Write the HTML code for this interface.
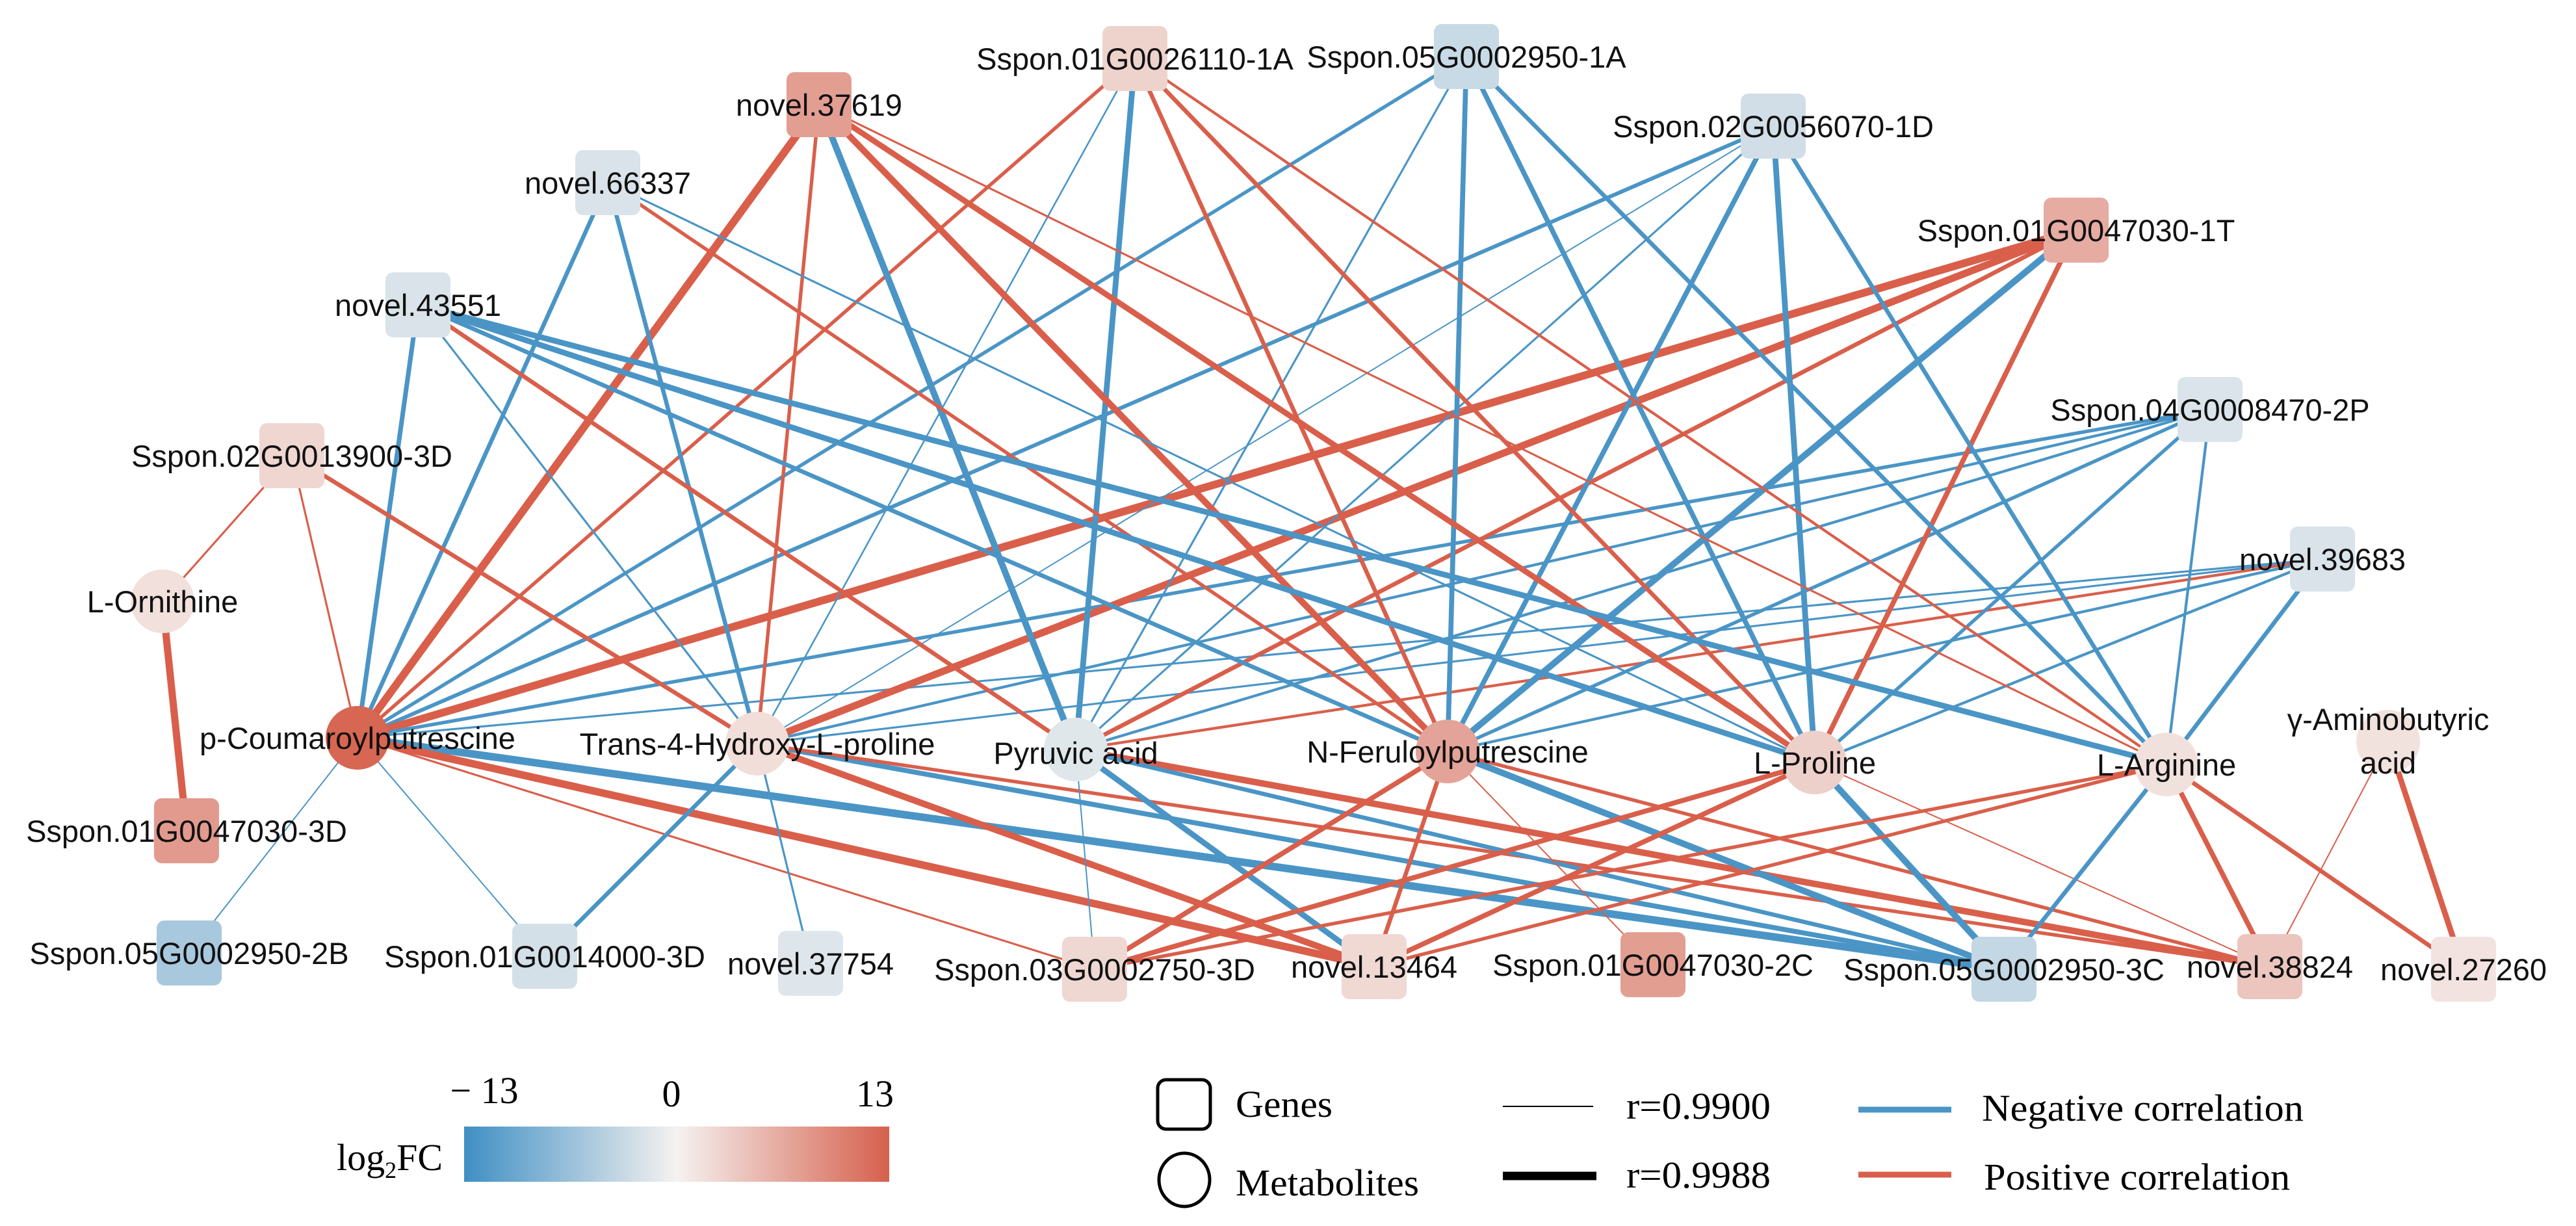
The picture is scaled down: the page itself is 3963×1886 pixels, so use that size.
<!DOCTYPE html>
<html><head><meta charset="utf-8"><style>
html,body{margin:0;padding:0;background:#fff;}
svg{display:block;}
.lbl{font-family:"Liberation Sans",Arial,sans-serif;font-size:47px;fill:#111;text-anchor:middle;}
.leg{font-family:"Liberation Serif","Times New Roman",serif;font-size:58px;fill:#000;}
</style></head><body>
<svg id="chart" width="3963" height="1886" viewBox="0 0 3963 1886" xmlns="http://www.w3.org/2000/svg">
<defs>
<linearGradient id="fcgrad" x1="0" x2="1" y1="0" y2="0">
<stop offset="0" stop-color="#3f8fc4"/><stop offset="0.5" stop-color="#f5f2f0"/><stop offset="1" stop-color="#d6604d"/>
</linearGradient>
</defs>
<g id="edges"></g>
<g id="nodes"></g>
<g id="labels"></g>
<g>
<text class="leg" x="745" y="1697" text-anchor="middle" font-size="56">− 13</text>
<text class="leg" x="1033" y="1702" text-anchor="middle" font-size="56">0</text>
<text class="leg" x="1346" y="1702" text-anchor="middle" font-size="56">13</text>
<rect x="714" y="1733" width="654" height="85" fill="url(#fcgrad)"/>
<text class="leg" x="518" y="1800" font-size="56">log<tspan font-size="36" dy="12">2</tspan><tspan dy="-12">FC</tspan></text>
<rect x="1781" y="1661" width="81" height="76" rx="13" fill="none" stroke="#000" stroke-width="5"/>
<text class="leg" x="1901" y="1718" textLength="149" lengthAdjust="spacingAndGlyphs">Genes</text>
<ellipse cx="1822" cy="1815" rx="39" ry="41" fill="none" stroke="#000" stroke-width="5"/>
<text class="leg" x="1901" y="1839" textLength="282" lengthAdjust="spacingAndGlyphs">Metabolites</text>
<line x1="2312" y1="1702" x2="2451" y2="1702" stroke="#000" stroke-width="2"/>
<text class="leg" x="2502" y="1721" textLength="222" lengthAdjust="spacingAndGlyphs">r=0.9900</text>
<line x1="2312" y1="1809" x2="2456" y2="1809" stroke="#000" stroke-width="13"/>
<text class="leg" x="2502" y="1827" textLength="222" lengthAdjust="spacingAndGlyphs">r=0.9988</text>
<line x1="2859" y1="1707" x2="3002" y2="1707" stroke="#4a95c6" stroke-width="9"/>
<text class="leg" x="3049" y="1724" textLength="495" lengthAdjust="spacingAndGlyphs">Negative correlation</text>
<line x1="2859" y1="1807" x2="3002" y2="1807" stroke="#d95f4b" stroke-width="9"/>
<text class="leg" x="3052" y="1830" textLength="471" lengthAdjust="spacingAndGlyphs">Positive correlation</text>
</g>
</svg>
<script>
// ---- data ----
const nodeIds = ["pC","T4","Pyr","NF","LP","LA","GABA","LO","A1","N376","N663","N435","G139","B1A","G560","G1T","G2P","N396","D3","B2","D14","N377","D03","N134","C2","C3","N388","N272"];
const nodeLabels = ["p-Coumaroylputrescine","Trans-4-Hydroxy-L-proline","Pyruvic acid","N-Feruloylputrescine","L-Proline","L-Arginine","γ-Aminobutyric|acid","L-Ornithine","Sspon.01G0026110-1A","novel.37619","novel.66337","novel.43551","Sspon.02G0013900-3D","Sspon.05G0002950-1A","Sspon.02G0056070-1D","Sspon.01G0047030-1T","Sspon.04G0008470-2P","novel.39683","Sspon.01G0047030-3D","Sspon.05G0002950-2B","Sspon.01G0014000-3D","novel.37754","Sspon.03G0002750-3D","novel.13464","Sspon.01G0047030-2C","Sspon.05G0002950-3C","novel.38824","novel.27260"];
const nodeKinds = ["m","m","m","m","m","m","m","m","g","g","g","g","g","g","g","g","g","g","g","g","g","g","g","g","g","g","g","g"];
const nodeLog2FC = [12.5,1.8,-1.5,7,3,1.5,1.4,1.6,2.8,7.5,-2,-2,2.5,-3.2,-2.6,6.3,-1.9,-2,7.8,-5.5,-2.4,-1.6,2.4,2.3,7.5,-3.6,4,1.3];
// layout positions (px)
const nodeX = [550,1165,1655,2227,2792,3333,3674,250,1746,1260,935,643,449,2256,2728,3194,3400,3573,287,291,838,1247,1684,2114,2543,3083,3492,3790];
const nodeY = [1135,1144,1153,1156,1173,1176,1141,925,90,161,281,469,701,87,194,354,630,860,1278,1466,1471,1482,1491,1487,1484,1491,1487,1491];

const edgeSrc = [
"pC","pC","pC","pC","pC","pC","pC","pC","pC","pC","pC","pC","pC","pC","pC",
"T4","T4","T4","T4","T4","T4","T4","T4","T4","T4","T4","T4","T4","T4",
"Pyr","Pyr","Pyr","Pyr","Pyr","Pyr","Pyr","Pyr","Pyr","Pyr","Pyr","Pyr",
"NF","NF","NF","NF","NF","NF","NF","NF","NF","NF","NF","NF","NF","NF",
"LP","LP","LP","LP","LP","LP","LP","LP","LP","LP","LP","LP","LP",
"LA","LA","LA","LA","LA","LA","LA","LA","LA","LA","LA","LA",
"GABA","GABA","LO","LO"];
const edgeTgt = [
"N435","N663","N376","A1","B1A","G560","G1T","G2P","N396","G139","B2","D14","C3","N134","D03",
"G139","N435","N663","N376","A1","G1T","G560","G2P","N396","D14","N377","N134","C3","N388",
"N435","N376","A1","B1A","G560","G1T","G2P","N396","D03","N134","N388","C3",
"N376","N663","N435","A1","B1A","G560","G1T","G2P","N396","N134","C2","C3","D03","N388",
"N376","N663","N435","A1","B1A","G560","G1T","G2P","N396","C3","N388","N134","D03",
"N435","N376","A1","B1A","G560","G2P","N396","C3","N388","N272","N134","D03",
"N388","N272","G139","D3"];
const edgeR = [
0.9945,0.994,0.9988,0.993,0.993,0.9935,0.9988,0.993,0.991,0.991,0.990,0.990,0.9985,0.9985,0.991,
0.994,0.991,0.994,0.993,0.9905,0.998,0.990,0.992,0.991,0.994,0.991,0.997,0.995,0.993,
0.994,0.997,0.996,0.991,0.991,0.994,0.992,0.992,0.990,0.996,0.997,0.994,
0.997,0.993,0.994,0.994,0.995,0.995,0.997,0.993,0.992,0.994,0.990,0.997,0.995,0.993,
0.996,0.991,0.996,0.994,0.995,0.996,0.995,0.993,0.992,0.997,0.990,0.995,0.995,
0.996,0.991,0.992,0.994,0.994,0.992,0.994,0.994,0.995,0.994,0.993,0.993,
0.990,0.996,0.991,0.998];
const edgeSign = [
-1,-1,1,1,-1,-1,1,-1,-1,1,-1,-1,-1,1,1,
1,-1,-1,1,-1,1,-1,-1,-1,-1,-1,1,-1,1,
1,-1,-1,-1,-1,1,-1,1,-1,-1,1,-1,
1,1,-1,1,-1,-1,-1,-1,-1,1,1,-1,1,1,
1,-1,-1,1,-1,-1,1,-1,-1,-1,1,1,1,
-1,1,1,-1,-1,-1,-1,-1,1,1,1,1,
1,1,1,1];

// ---- scales ----
const NS = "http://www.w3.org/2000/svg";
const rMin = 0.9900, rMax = 0.9988, wMin = 2, wMax = 12;
function widthScale(r){ const t=Math.max(0,Math.min(1,(r-rMin)/(rMax-rMin))); return wMin + t*(wMax-wMin); }
const cNeg=[63,143,196], cMid=[245,242,240], cPos=[214,96,77];
function colorScale(v){
  const t=Math.max(-1,Math.min(1,v/13));
  const a=cMid, b=t<0?cNeg:cPos, k=Math.abs(t);
  const c=a.map((x,i)=>Math.round(x+(b[i]-x)*k));
  return "rgb("+c.join(",")+")";
}
function idx(id){ return nodeIds.indexOf(id); }

const gE=document.getElementById("edges");
for(let i=0;i<edgeSrc.length;i++){
  const a=idx(edgeSrc[i]), b=idx(edgeTgt[i]);
  const ln=document.createElementNS(NS,"line");
  ln.setAttribute("x1",nodeX[a]); ln.setAttribute("y1",nodeY[a]);
  ln.setAttribute("x2",nodeX[b]); ln.setAttribute("y2",nodeY[b]);
  ln.setAttribute("stroke", edgeSign[i]>0 ? "#d95f4b" : "#4a95c6");
  ln.setAttribute("stroke-width", widthScale(edgeR[i]).toFixed(2));
  
  
  gE.appendChild(ln);
}

const gN=document.getElementById("nodes"), gL=document.getElementById("labels");
for(let i=0;i<nodeIds.length;i++){
  const x=nodeX[i], y=nodeY[i], col=colorScale(nodeLog2FC[i]);
  let el;
  if(nodeKinds[i]==="g"){
    el=document.createElementNS(NS,"rect");
    el.setAttribute("x",x-50); el.setAttribute("y",y-50);
    el.setAttribute("width",100); el.setAttribute("height",100);
    el.setAttribute("rx",12);
  } else {
    el=document.createElementNS(NS,"circle");
    el.setAttribute("cx",x); el.setAttribute("cy",y); el.setAttribute("r",49);
  }
  el.setAttribute("fill",col);
  
  
  gN.appendChild(el);

  const parts=nodeLabels[i].split("|");
  const t=document.createElementNS(NS,"text");
  t.setAttribute("class","lbl");
  t.setAttribute("x",x);
  if(parts.length>1){
    t.setAttribute("y",y-18);
    parts.forEach((p,k)=>{const s=document.createElementNS(NS,"tspan");s.setAttribute("x",x);if(k>0)s.setAttribute("dy",67);s.textContent=p;t.appendChild(s);});
  } else {
    t.setAttribute("y", y + (nodeIds[i]==="Pyr"?22:17));
    t.textContent=parts[0];
  }
  
  
  gL.appendChild(t);
}
</script>
</body></html>
